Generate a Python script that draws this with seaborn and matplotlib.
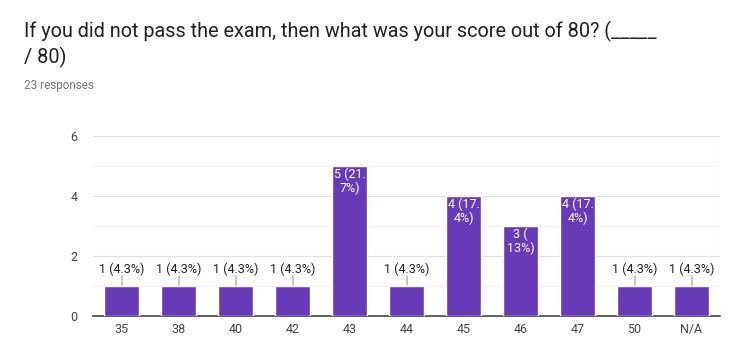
import matplotlib
matplotlib.use("Agg")
import matplotlib.pyplot as plt
import seaborn as sns
import pandas as pd

categories = ["35", "38", "40", "42", "43", "44", "45", "46", "47", "50", "N/A"]
counts = [1, 1, 1, 1, 5, 1, 4, 3, 4, 1, 1]
labels = ["1 (4.3%)", "1 (4.3%)", "1 (4.3%)", "1 (4.3%)", "5 (21.\n7%)", "1 (4.3%)",
          "4 (17.\n4%)", "3 (\n13%)", "4 (17.\n4%)", "1 (4.3%)", "1 (4.3%)"]
y_ticks = [0, 2, 4, 6]
title = "If you did not pass the exam, then what was your score out of 80? (_____\n/ 80)"
subtitle = "23 responses"

sns.set_theme(style="white")
plt.rcParams['font.family'] = ['Roboto', 'DejaVu Sans']

df = pd.DataFrame({"cat": categories, "n": counts})

fig = plt.figure(figsize=(7.37, 3.5), dpi=100)
ax = fig.add_axes([93/737, 1-316/350, (720-93)/737, 180/350])

sns.barplot(data=df, x="cat", y="n", color="#673ab7", saturation=1, width=0.61, ax=ax, zorder=3)

ax.set_ylim(0, 6)
ax.set_xlim(-0.5, len(categories) - 0.5)
ax.set_yticks(y_ticks)
for y in [1, 3, 5]:
    ax.axhline(y, color="#f0f0f0", lw=0.8, zorder=0)
for y in [2, 4, 6]:
    ax.axhline(y, color="#e0e0e0", lw=0.8, zorder=0)
ax.axvline(len(categories) - 0.5, color="#e8e8e8", lw=0.8, zorder=0)
for s in ["top", "right", "left"]:
    ax.spines[s].set_visible(False)
ax.spines["bottom"].set_color("#333333")
ax.spines["bottom"].set_linewidth(1.1)
ax.set_xlabel("")
ax.set_ylabel("")
ax.tick_params(axis="both", length=0, labelsize=9, colors="#444444")
ax.tick_params(axis="x", pad=5)
ax.tick_params(axis="y", pad=11)

for i, (n, lab) in enumerate(zip(counts, labels)):
    if "\n" in lab:
        ax.text(i, n - 0.04, lab, ha="center", va="top", color="white", fontsize=9,
                linespacing=1.1, zorder=5)
    else:
        ax.plot([i, i], [n, n + 0.32], color="#bbbbbb", lw=1.2, zorder=2)
        ax.text(i, n + 0.57, lab, ha="center", va="center", color="#222222", fontsize=9, zorder=5)

fig.text(24/737, 1-21/350, title, ha="left", va="top", fontsize=14.3, color="#212121",
         linespacing=1.3)
fig.text(24/737, 1-86/350, subtitle, ha="left", va="center", fontsize=8.5, color="#757575")

fig.savefig("out.png", dpi=100, facecolor="white")
